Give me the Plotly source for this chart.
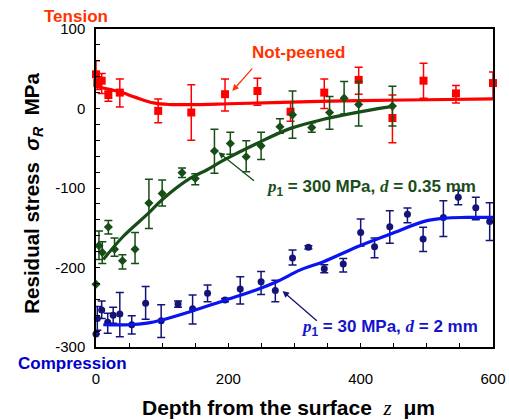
import plotly.graph_objects as go

# ---------------- data ----------------
# Not-peened (red)
red_x = [0, 2, 8.6, 18.7, 36, 94, 144, 195, 244, 294, 345, 397, 448, 495, 544, 600]
red_y = [43, 32, 35, 17, 20, -3, -5, 18, 22, -4, 20, 36, -12, 35, 19, 32]
red_ep = [17, 8, 9, 5, 17, 15, 35, 19, 16, 12, 17, 16, 29, 22, 10, 14]
red_em = [15, 8, 16, 8, 18, 15, 35, 21, 18, 12, 20, 18, 31, 22, 12, 20]
red_fit_x = [0, 20, 36, 60, 87, 112, 150, 200, 294, 400, 500, 600]
red_fit_y = [28, 24, 21, 14, 7, 5, 5, 6, 8, 10, 11, 12]

# p1 = 300 MPa, d = 0.35 mm (green)
grn_x = [0, 4.5, 9.5, 18.7, 28, 40, 59, 80, 100, 130, 150, 179, 203, 227, 249.5, 278, 297, 326, 353, 375, 397, 448]
grn_y = [-221, -172.5, -181, -149, -177, -191.5, -177, -119, -107, -80.7, -88, -53.5, -44, -60.6, -47, -23, -8, -24, -5, 13, 5, 3]
grn_ep = [0, 18.5, 13.5, 8, 14, 7.5, 21, 30, 17, 6, 6, 27.5, 14, 20, 17, 10, 30, 6, 20, 21, 29, 25]
grn_em = [0, 17.5, 14, 9, 9, 10.5, 18, 32, 15.6, 6, 8, 28, 13.6, 19, 17, 8, 29.5, 6, 21, 20, 27, 25]
grn_fit_x = [11, 41, 79, 99.5, 142, 168, 193, 243, 294, 344, 375, 420, 450]
grn_fit_y = [-190, -161, -132, -115, -88, -77, -65, -44, -25, -13.6, -8, -1, 3]

# p1 = 30 MPa, d = 2 mm (blue)
blu_x = [0, 2, 8.6, 17.7, 26, 36, 54, 75, 98.5, 124, 146, 168.6, 195, 218, 249.5, 271, 297, 321, 345, 373.7, 400, 421, 444, 470.7, 494.4, 525, 547.5, 574, 595]
blu_y = [-283.6, -264, -253.5, -269, -260, -258.5, -272, -245, -267, -246, -252, -232.5, -241, -227, -218, -229, -188, -174.6, -201.5, -195.6, -156, -174, -148.6, -133, -164, -137, -111.7, -124.7, -142]
blu_ep = [0, 15, 11.5, 11.4, 10, 27, 11.4, 21, 20, 4, 17.4, 10.5, 2, 15.4, 13, 13, 10, 2, 5, 7, 17, 11, 20, 8, 14.5, 21, 9, 13, 23.5]
blu_em = [0, 15, 10.5, 13.8, 10, 28.5, 11.6, 20, 21, 4, 19, 10.5, 2, 19, 16, 14, 9, 2, 5, 10, 17, 13.7, 21, 10.6, 16, 24, 9.3, 15.3, 24]
blu_fit_x = [11, 50, 77, 99.5, 142, 193, 243, 273, 309, 344, 395, 445, 496, 526, 560, 600]
blu_fit_y = [-272, -272, -270, -266, -255.6, -241.7, -228, -218, -203, -192.7, -174, -158, -142, -138, -137, -137]

x_ticks = [0, 200, 400, 600]
x_tick_text = ["0", "200", "400", "600"]
y_ticks = [-300, -200, -100, 0, 100]
y_tick_text = ["-300", "-200", "-100", "0", "100"]

# ---------------- figure ----------------
RED, RED_TXT = "#ff0000", "#ff3300"
GRN, GRN_TXT = "#174d17", "#1a4d1a"
BLU_LINE, BLU_MK, BLU_TXT = "#0a14f0", "#141478", "#1414cc"
FONT = "Arial, Liberation Sans, sans-serif"
SERIF = "Times New Roman, Liberation Serif, serif"

fig = go.Figure()

def add_series(x, y, ep, em, color, ecolor, symbol, size):
    fig.add_trace(go.Scatter(
        x=x, y=y, mode="markers", cliponaxis=False,
        marker=dict(symbol=symbol, size=size, color=color),
        error_y=dict(type="data", symmetric=False, array=ep, arrayminus=em,
                     color=ecolor, thickness=1.5, width=4),
        showlegend=False))

def add_fit(x, y, color):
    fig.add_trace(go.Scatter(
        x=x, y=y, mode="lines", line=dict(color=color, width=3.2, shape="spline"),
        showlegend=False, cliponaxis=False))

add_fit(red_fit_x, red_fit_y, RED)
add_series(red_x, red_y, red_ep, red_em, RED, RED, "square", 8)
add_series(grn_x, grn_y, grn_ep, grn_em, GRN, GRN, "diamond", 7)
add_fit(grn_fit_x, grn_fit_y, GRN)
add_series(blu_x, blu_y, blu_ep, blu_em, BLU_MK, BLU_MK, "circle", 7)
add_fit(blu_fit_x, blu_fit_y, BLU_LINE)

def arrow(hx, hy, tx, ty, color):
    fig.add_annotation(x=hx, y=hy, ax=tx, ay=ty, xref="x", yref="y",
                       axref="x", ayref="y", text="", showarrow=True,
                       arrowhead=2, arrowsize=1, arrowwidth=1.3, arrowcolor=color)

arrow(206, 22, 238, 52, RED_TXT)
arrow(185, -55, 241, -92.5, GRN)
arrow(282, -229.6, 336, -268.6, BLU_MK)

def label(x, y, text, color, size=16, xref="x", yref="y", angle=0):
    fig.add_annotation(x=x, y=y, xref=xref, yref=yref, text=text, showarrow=False,
                       textangle=angle, font=dict(family=FONT, size=size, color=color),
                       xanchor="center", yanchor="middle")

label(307, 71, "<b>Not-peened</b>", RED_TXT, 17)
label(415, -100, "<b><span style='font-family:%s'><i>p</i></span><sub>1</sub> = 300 MPa, "
      "<span style='font-family:%s'><i>d</i></span> = 0.35 mm</b>" % (SERIF, SERIF), GRN_TXT, 17)
label(443, -276, "<b><span style='font-family:%s'><i>p</i></span><sub>1</sub> = 30 MPa, "
      "<span style='font-family:%s'><i>d</i></span> = 2 mm</b>" % (SERIF, SERIF), BLU_TXT, 17)

label(-0.05, 1.038, "<b>Tension</b>", RED_TXT, 17, "paper", "paper")
label(-0.06, -0.053, "<b>Compression</b>", "#0000cc", 17, "paper", "paper")
label(-0.158, 0.483, "<b>Residual stress  <i>σ<sub>R</sub></i>  MPa</b>", "black", 20.5,
      "paper", "paper", -90)
label(0.484, -0.192, "<b>Depth from the surface  </b><span style='font-family:%s'><i>z</i></span><b>  μm</b>" % SERIF,
      "black", 21, "paper", "paper")

fig.update_layout(
    width=509, height=420,
    margin=dict(l=96, r=16, t=29, b=73, autoexpand=False),
    paper_bgcolor="white", plot_bgcolor="white",
    font=dict(family=FONT, size=15, color="black"),
    xaxis=dict(range=[0, 600], tickvals=x_ticks, ticktext=x_tick_text,
               ticks="inside", ticklen=4, tickcolor="black",
               showline=True, linecolor="black", linewidth=1.5, mirror=True,
               showgrid=False, zeroline=False, ticklabelstandoff=17, automargin=False,
               minor=dict(tickvals=list(range(0, 601, 50)), ticks="inside", ticklen=4,
                          tickcolor="black", showgrid=False)),
    yaxis=dict(range=[-300, 100], tickvals=y_ticks, ticktext=y_tick_text,
               ticks="inside", ticklen=4, tickcolor="black",
               showline=True, linecolor="black", linewidth=1.5, mirror=True,
               showgrid=False, zeroline=False, ticklabelstandoff=6, automargin=False,
               minor=dict(tickvals=list(range(-300, 101, 20)), ticks="inside", ticklen=4,
                          tickcolor="black", showgrid=False)),
)

fig.write_html("out.html", config={"displayModeBar": False},
               post_script="document.body.style.margin='0';document.body.style.padding='0';")
